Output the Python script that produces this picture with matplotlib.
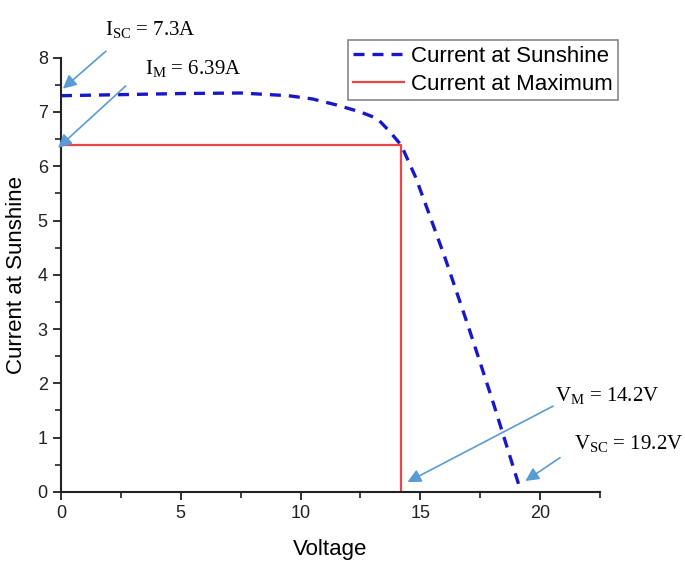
import matplotlib
matplotlib.use("Agg")
import matplotlib.pyplot as plt
from matplotlib.ticker import MultipleLocator

plt.rcParams["font.family"] = ["Liberation Sans", "DejaVu Sans"]
plt.rcParams["mathtext.fontset"] = "custom"
plt.rcParams["mathtext.rm"] = "Liberation Serif"

# I-V curve
voltage = [0.0, 2.5, 5.0, 7.5, 9.5, 10.5, 11.5, 12.5, 13.2, 13.7, 14.2, 14.8, 15.3, 16.0, 17.0, 18.0, 19.2]
current = [7.30, 7.32, 7.34, 7.35, 7.30, 7.24, 7.13, 7.00, 6.88, 6.65, 6.39, 5.80, 5.20, 4.35, 3.05, 1.70, 0.0]

# maximum power point
v_max = 14.2
i_max = 6.39
max_v = [0.0, v_max, v_max]
max_i = [i_max, i_max, 0.0]

ARROW = "#5b9bd5"

fig = plt.figure(figsize=(6.85, 5.66), dpi=100)
ax = fig.add_axes([0.089, 0.131, 0.787, 0.767])

ax.plot(voltage, current, color="#1818c8", linewidth=2.4, dashes=(3.3, 2.4), label="Current at Sunshine")
ax.plot(max_v, max_i, color="#e8474a", linewidth=1.6, label="Current at Maximum")

ax.set_xlim(0, 22.5)
ax.set_ylim(0, 8)
ax.xaxis.set_major_locator(MultipleLocator(5))
ax.xaxis.set_minor_locator(MultipleLocator(2.5))
ax.yaxis.set_major_locator(MultipleLocator(1))
ax.yaxis.set_minor_locator(MultipleLocator(0.5))
for side in ("top", "right"):
    ax.spines[side].set_visible(False)
for side in ("left", "bottom"):
    ax.spines[side].set_linewidth(1.5)
    ax.spines[side].set_color("#222222")
ax.tick_params(which="major", direction="out", length=6, width=1.3, labelsize=13, colors="#222222")
ax.tick_params(which="minor", direction="out", length=4, width=1.2, colors="#222222")
ax.set_xlabel("Voltage", fontsize=16, labelpad=12)
ax.set_ylabel("Current at Sunshine", fontsize=16, labelpad=8)

leg = ax.legend(loc="upper right", bbox_to_anchor=(1.042, 1.05), fontsize=16, fancybox=False,
                framealpha=1, edgecolor="#888888", handlelength=2.3, handletextpad=0.3,
                borderpad=0.25, labelspacing=0.3, borderaxespad=0.2)
leg.get_frame().set_linewidth(1.2)

# label, arrow tip, arrow tail, text position (data units)
notes = [
    (r"I$_{\mathrm{SC}}$ = 7.3A", (0.08, 7.43), (1.875, 8.12), (1.83, 8.51)),
    (r"I$_{\mathrm{M}}$ = 6.39A", (-0.12, 6.34), (2.7, 7.48), (3.5, 7.78)),
    (r"V$_{\mathrm{M}}$ = 14.2V", (14.46, 0.18), (20.54, 1.58), (20.6, 1.77)),
    (r"V$_{\mathrm{SC}}$ = 19.2V", (19.38, 0.2), (20.83, 0.63), (21.4, 0.88)),
]
arrow = dict(arrowstyle="-|>", color=ARROW, lw=1.2, mutation_scale=20, shrinkA=0, shrinkB=0)
for text, tip, tail, pos in notes:
    ax.annotate("", xy=tip, xytext=tail, arrowprops=arrow, annotation_clip=False)
    ax.text(pos[0], pos[1], text, fontsize=15, family="Liberation Serif",
            ha="left", va="center", clip_on=False)

fig.savefig("out.png", dpi=100)
